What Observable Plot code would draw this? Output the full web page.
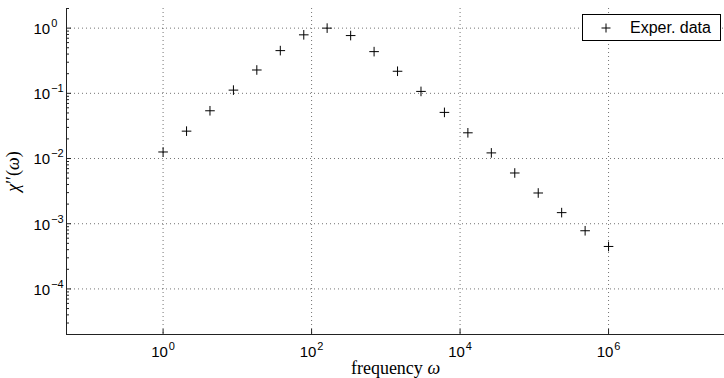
<!DOCTYPE html>
<html><head><meta charset="utf-8">
<script src="https://cdn.jsdelivr.net/npm/d3@7"></script>
<script src="https://cdn.jsdelivr.net/npm/@observablehq/plot@0.6"></script>
<style>
body{margin:0;background:#fff;}
#wrap{position:relative;width:724px;height:378px;overflow:hidden;}
#legend{position:absolute;left:582px;top:14px;width:137px;height:25px;border:1px solid #000;background:#fff;font-family:"Liberation Sans",Arial,sans-serif;font-size:16px;color:#000;}
#legend svg{position:absolute;left:13px;top:3px;}
#legend span{position:absolute;left:47px;top:0;line-height:25px;white-space:nowrap;}
</style></head><body>
<div id="wrap"></div>
<script>
// data
const omega = [1, 2.07, 4.28, 8.86, 18.3, 37.9, 78.5, 162, 336, 695, 1438, 2976, 6158, 12743, 26367, 54556, 112884, 233572, 483293, 1000000];
const chi = [0.0126, 0.0263, 0.054, 0.112, 0.228, 0.452, 0.789, 1.0, 0.769, 0.436, 0.218, 0.107, 0.051, 0.0248, 0.0122, 0.0060, 0.00296, 0.00148, 0.00078, 0.000448];
const seriesName = "Exper. data";
const xTicks = [1, 1e2, 1e4, 1e6];
const yTicks = [1e-4, 1e-3, 1e-2, 1e-1, 1];
const xDomain = [0.05, 4e7];
const yDomain = [2e-5, 2];
const xLabel = "frequency ω";
const yLabel = "χ′′(ω)";

const data = omega.map((w, i) => ({w, c: chi[i]}));
const yMinor = [];
for (let k = -5; k <= 0; k++) for (let m = 2; m <= 9; m++) {
  const v = m * 10 ** k;
  if (v >= yDomain[0] && v <= yDomain[1]) yMinor.push(v);
}
const plus = {draw(ctx, size) {
  const r = Math.sqrt(size / Math.PI);
  ctx.moveTo(-r, 0); ctx.lineTo(r, 0);
  ctx.moveTo(0, -r); ctx.lineTo(0, r);
}};
const expFmt = d => String(Math.round(Math.log10(d)));
const axisColor = "#222";
const gridOpts = {stroke: "#000", strokeOpacity: 0.55, strokeDasharray: "1,3"};

const chart = Plot.plot({
  width: 724, height: 378,
  marginLeft: 66, marginRight: 0, marginTop: 8, marginBottom: 44,
  x: {type: "log", domain: xDomain, range: [66, 727]},
  y: {type: "log", domain: yDomain},
  style: {fontFamily: '"Liberation Sans", Arial, sans-serif', fontSize: "15px", color: "#000", background: "#fff", overflow: "visible"},
  marks: [
    Plot.gridX({ticks: xTicks, ...gridOpts}),
    Plot.gridY({ticks: yTicks, ...gridOpts}),
    Plot.ruleX([xDomain[0]], {stroke: axisColor}),
    Plot.ruleY([yDomain[0]], {stroke: axisColor}),
    Plot.axisX({ticks: xTicks, tickSize: -5, fill: "none", stroke: axisColor, label: null}),
    Plot.axisX({ticks: xTicks, tickSize: 0, tickPadding: 12, tickFormat: expFmt, label: null}),
    Plot.axisY({ticks: yTicks, tickSize: -5, fill: "none", stroke: axisColor, label: null}),
    Plot.axisY({ticks: yMinor, tickSize: -3, fill: "none", stroke: axisColor, label: null}),
    Plot.axisY({ticks: yTicks, tickSize: 0, tickPadding: 33, textAnchor: "start", dy: 1, tickFormat: expFmt, label: null}),
    Plot.dot(data, {x: "w", y: "c", symbol: plus, r: 4.8, stroke: "#000", fill: "none", strokeWidth: 1}),
    Plot.text([yLabel], {frameAnchor: "left", textAnchor: "middle", lineAnchor: "middle", rotate: -90, dx: -53, fontFamily: '"Liberation Serif", serif', fontSize: 18}),
    Plot.text([xLabel], {frameAnchor: "bottom", textAnchor: "middle", lineAnchor: "bottom", dy: 39, fontFamily: '"Liberation Serif", serif', fontSize: 18})
  ]
});

const NS = "http://www.w3.org/2000/svg";
function tspan(parent, txt, attrs) {
  const t = document.createElementNS(NS, "tspan");
  for (const k in attrs) t.setAttribute(k, attrs[k]);
  t.textContent = txt;
  parent.appendChild(t);
  return t;
}
chart.querySelectorAll('g[aria-label="x-axis tick label"] text, g[aria-label="y-axis tick label"] text').forEach(el => {
  const e = el.textContent.replace("-", "−");
  el.textContent = "";
  tspan(el, "10", {});
  tspan(el, e, {dy: "-7", "font-size": "11", dx: "1"});
});
chart.querySelectorAll("text").forEach(el => {
  if (el.textContent === yLabel) {
    el.textContent = "";
    tspan(el, "χ", {"font-style": "italic"});
    tspan(el, "′′", {});
    tspan(el, "(", {});
    tspan(el, "ω", {"font-style": "italic"});
    tspan(el, ")", {});
  } else if (el.textContent === xLabel) {
    el.textContent = "";
    tspan(el, "frequency ", {});
    tspan(el, "ω", {"font-style": "italic"});
  }
});

const wrap = document.getElementById("wrap");
wrap.appendChild(chart);
const legend = document.createElement("div");
legend.id = "legend";
legend.innerHTML = '<svg width="20" height="20"><path d="M5.5,10H14.5M10,5.5V14.5" stroke="#000" fill="none"/></svg>';
const lab = document.createElement("span");
lab.textContent = seriesName;
legend.appendChild(lab);
wrap.appendChild(legend);
</script>
</body></html>
